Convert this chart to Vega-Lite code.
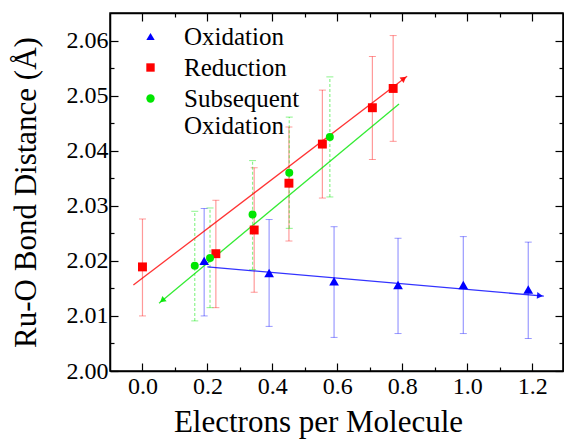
{
  "$schema": "https://vega.github.io/schema/vega-lite/v6.json",
  "width": 453,
  "height": 358,
  "autosize": "none",
  "padding": {"left": 110, "top": 13, "right": 1, "bottom": 68},
  "background": "white",
  "config": {
    "font": "Liberation Serif, Times New Roman, Tinos, serif",
    "view": {"stroke": "black", "strokeWidth": 1.5},
    "axis": {"labelFont": "Liberation Serif, Times New Roman, Tinos, serif", "titleFont": "Liberation Serif, Times New Roman, Tinos, serif", "domainColor": "black", "tickColor": "black", "labelColor": "black", "titleColor": "black", "grid": false, "labelFontSize": 24, "titleFontSize": 31, "titleFontWeight": "normal", "domainWidth": 1.5, "tickWidth": 1.2, "labelOverlap": false, "labelFlush": false},
    "legend": {"labelFont": "Liberation Serif, Times New Roman, Tinos, serif"}
  },
  "datasets": {
    "pts": [
      {"series": "Oxidation", "x": 0.19, "y": 2.0200, "lo": 2.0100, "hi": 2.0295},
      {"series": "Oxidation", "x": 0.39, "y": 2.0178, "lo": 2.0081, "hi": 2.0275},
      {"series": "Oxidation", "x": 0.59, "y": 2.0163, "lo": 2.0061, "hi": 2.0262},
      {"series": "Oxidation", "x": 0.787, "y": 2.0156, "lo": 2.0068, "hi": 2.0241},
      {"series": "Oxidation", "x": 0.988, "y": 2.0156, "lo": 2.0068, "hi": 2.0244},
      {"series": "Oxidation", "x": 1.188, "y": 2.0148, "lo": 2.0059, "hi": 2.0234},
      {"series": "Reduction", "x": 0.0, "y": 2.0189, "lo": 2.0100, "hi": 2.0276},
      {"series": "Reduction", "x": 0.226, "y": 2.0213, "lo": 2.0115, "hi": 2.0310},
      {"series": "Reduction", "x": 0.344, "y": 2.0256, "lo": 2.0143, "hi": 2.0369},
      {"series": "Reduction", "x": 0.451, "y": 2.0341, "lo": 2.0236, "hi": 2.0443},
      {"series": "Reduction", "x": 0.554, "y": 2.0412, "lo": 2.0314, "hi": 2.0510},
      {"series": "Reduction", "x": 0.708, "y": 2.0478, "lo": 2.0384, "hi": 2.0571},
      {"series": "Reduction", "x": 0.772, "y": 2.0513, "lo": 2.0417, "hi": 2.0609},
      {"series": "Subsequent Oxidation", "x": 0.161, "y": 2.0191, "lo": 2.0091, "hi": 2.0290},
      {"series": "Subsequent Oxidation", "x": 0.208, "y": 2.0205, "lo": 2.0115, "hi": 2.0296},
      {"series": "Subsequent Oxidation", "x": 0.339, "y": 2.0284, "lo": 2.0184, "hi": 2.0382},
      {"series": "Subsequent Oxidation", "x": 0.452, "y": 2.0360, "lo": 2.0259, "hi": 2.0461},
      {"series": "Subsequent Oxidation", "x": 0.577, "y": 2.0425, "lo": 2.0316, "hi": 2.0534}
    ],
    "fits": [
      {"series": "Oxidation", "x": 0.2, "y": 2.0189},
      {"series": "Oxidation", "x": 1.236, "y": 2.0136},
      {"series": "Reduction", "x": -0.028, "y": 2.0156},
      {"series": "Reduction", "x": 0.815, "y": 2.0535},
      {"series": "Subsequent Oxidation", "x": 0.051, "y": 2.0123},
      {"series": "Subsequent Oxidation", "x": 0.79, "y": 2.0485}
    ],
    "tips": [
      {"series": "Oxidation", "x": 1.224, "y": 2.01367},
      {"series": "Reduction", "x": 0.805, "y": 2.0531},
      {"series": "Subsequent Oxidation", "x": 0.061, "y": 2.0128}
    ]
  },
  "resolve": {"legend": {"color": "independent", "shape": "independent"}},
  "layer": [
    {
      "data": {"name": "pts"},
      "transform": [{"filter": "datum.series != 'Subsequent Oxidation'"}],
      "mark": {"type": "errorbar", "opacity": 0.4, "ticks": {"size": 7}, "rule": {"strokeWidth": 1.2}},
      "encoding": {
        "x": {"field": "x", "type": "quantitative", "axis": null, "scale": {"domain": [-0.1, 1.295], "nice": false, "zero": false}},
        "y": {"field": "lo", "type": "quantitative", "axis": null, "scale": {"domain": [2.0, 2.065], "nice": false, "zero": false}},
        "y2": {"field": "hi"},
        "color": {"field": "series", "type": "nominal", "legend": null, "scale": {"domain": ["Oxidation", "Reduction", "Subsequent Oxidation"], "range": ["#0000ff", "#ff0000", "#00e600"]}}
      }
    },
    {
      "data": {"name": "pts"},
      "transform": [{"filter": "datum.series == 'Subsequent Oxidation'"}],
      "mark": {"type": "errorbar", "opacity": 0.45, "ticks": {"size": 7, "strokeDash": [3, 2]}, "rule": {"strokeWidth": 1.2, "strokeDash": [3, 2]}},
      "encoding": {
        "x": {"field": "x", "type": "quantitative", "axis": null},
        "y": {"field": "lo", "type": "quantitative", "axis": null},
        "y2": {"field": "hi"},
        "color": {"field": "series", "type": "nominal", "legend": null}
      }
    },
    {
      "data": {"name": "fits"},
      "mark": {"type": "line", "strokeWidth": 1.3, "opacity": 0.8},
      "encoding": {
        "x": {"field": "x", "type": "quantitative", "axis": {"orient": "top", "values": [0, 0.1, 0.2, 0.3, 0.4, 0.5, 0.6, 0.7, 0.8, 0.9, 1.0, 1.1, 1.2], "labels": false, "title": null, "tickSize": {"condition": {"test": "round(datum.value*10)%2==0", "value": -8}, "value": -4}}},
        "y": {"field": "y", "type": "quantitative", "axis": {"orient": "right", "values": [2.0, 2.005, 2.01, 2.015, 2.02, 2.025, 2.03, 2.035, 2.04, 2.045, 2.05, 2.055, 2.06], "labels": false, "title": null, "tickSize": {"condition": {"test": "round(datum.value*1000)%10==0", "value": -8}, "value": -4}}},
        "color": {"field": "series", "type": "nominal", "legend": null},
        "detail": {"field": "series"}
      }
    },
    {
      "data": {"name": "tips"},
      "transform": [{"filter": "datum.series == 'Oxidation'"}],
      "mark": {"type": "point", "shape": "triangle-right", "filled": true, "size": 45, "angle": 5, "opacity": 0.9},
      "encoding": {
        "x": {"field": "x", "type": "quantitative", "axis": null},
        "y": {"field": "y", "type": "quantitative", "axis": null},
        "color": {"field": "series", "type": "nominal", "legend": null}
      }
    },
    {
      "data": {"name": "tips"},
      "transform": [{"filter": "datum.series == 'Reduction'"}],
      "mark": {"type": "point", "shape": "triangle-right", "filled": true, "size": 45, "angle": 323, "opacity": 0.9},
      "encoding": {
        "x": {"field": "x", "type": "quantitative", "axis": null},
        "y": {"field": "y", "type": "quantitative", "axis": null},
        "color": {"field": "series", "type": "nominal", "legend": null}
      }
    },
    {
      "data": {"name": "tips"},
      "transform": [{"filter": "datum.series == 'Subsequent Oxidation'"}],
      "mark": {"type": "point", "shape": "triangle-right", "filled": true, "size": 45, "angle": 140, "opacity": 0.9},
      "encoding": {
        "x": {"field": "x", "type": "quantitative", "axis": null},
        "y": {"field": "y", "type": "quantitative", "axis": null},
        "color": {"field": "series", "type": "nominal", "legend": null}
      }
    },
    {
      "data": {"name": "pts"},
      "mark": {"type": "point", "filled": true, "opacity": 1},
      "encoding": {
        "x": {"field": "x", "type": "quantitative", "axis": {"orient": "bottom", "values": [0, 0.1, 0.2, 0.3, 0.4, 0.5, 0.6, 0.7, 0.8, 0.9, 1.0, 1.1, 1.2], "labelExpr": "round(datum.value*10)%2==0 ? format(datum.value,'.1f') : ''", "tickSize": {"condition": {"test": "round(datum.value*10)%2==0", "value": -8}, "value": -4}, "labelPadding": 11, "title": "Electrons per Molecule", "titlePadding": 5, "titleX": 208}},
        "y": {"field": "y", "type": "quantitative", "axis": {"orient": "left", "values": [2.0, 2.005, 2.01, 2.015, 2.02, 2.025, 2.03, 2.035, 2.04, 2.045, 2.05, 2.055, 2.06], "labelExpr": "round(datum.value*1000)%10==0 ? format(datum.value,'.2f') : ''", "tickSize": {"condition": {"test": "round(datum.value*1000)%10==0", "value": -8}, "value": -4}, "labelPadding": 10, "title": "Ru-O Bond Distance (Å)", "titlePadding": 24}},
        "size": {"field": "series", "type": "nominal", "legend": null, "scale": {"domain": ["Oxidation", "Reduction", "Subsequent Oxidation"], "range": [95, 64, 70]}},
        "color": {"field": "series", "type": "nominal", "legend": {"orient": "none", "legendX": 28, "legendY": 11, "title": null, "labelFontSize": 25, "labelColor": "black", "labelOffset": 21, "rowPadding": 5, "symbolSize": 70, "padding": 0, "labelLimit": 400, "labelExpr": "datum.label == 'Subsequent Oxidation' ? ['Subsequent', 'Oxidation'] : datum.label"}},
        "shape": {"field": "series", "type": "nominal", "scale": {"domain": ["Oxidation", "Reduction", "Subsequent Oxidation"], "range": ["triangle-up", "square", "circle"]}, "legend": {"orient": "none", "legendX": 28, "legendY": 11, "title": null, "labelFontSize": 25, "labelColor": "black", "labelOffset": 21, "rowPadding": 5, "symbolSize": 70, "padding": 0, "labelLimit": 400, "labelExpr": "datum.label == 'Subsequent Oxidation' ? ['Subsequent', 'Oxidation'] : datum.label"}}
      }
    }
  ]
}
